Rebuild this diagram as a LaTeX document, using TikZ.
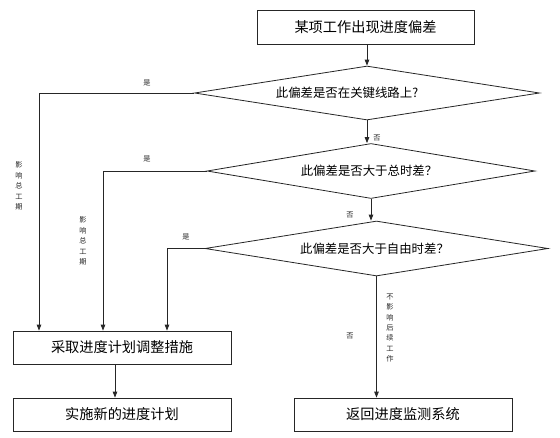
\documentclass[tikz,border=0pt]{standalone}
\usepackage{fontspec}
\setmainfont{Noto Sans CJK SC}
\usetikzlibrary{shapes.geometric,arrows.meta}
\begin{document}
\begin{tikzpicture}[x=1pt,y=-1pt,
  line width=0.8pt,
  arr/.style={draw=black!85,-{Triangle[length=6pt,width=4.5pt]}},
  ln/.style={draw=black!85},
  boxnode/.style={draw=black!85,rectangle,inner sep=0pt,font=\fontsize{14.2}{16}\selectfont},
  dia/.style={draw=black!85,diamond,inner sep=0pt},
  dtext/.style={font=\fontsize{12.4}{14}\selectfont,inner sep=0pt},
  small/.style={font=\fontsize{7.2}{8}\selectfont,inner sep=0pt,text=black!85},
  vtext/.style={font=\fontsize{7.2}{10.4}\selectfont,inner sep=0pt,align=center,text=black!85}]
\useasboundingbox[fill=white] (0,0) rectangle (560,437);

\node[boxnode,minimum width=217pt,minimum height=34pt] (B1) at (365.5,27) {某项工作出现进度偏差};

\node[dia,minimum width=345pt,minimum height=54pt,
  label={[dtext,xshift=-20pt]center:此偏差是否在关键线路上?}] (D1) at (367,93) {};
\node[dia,minimum width=328pt,minimum height=55pt,
  label={[dtext,xshift=-2pt]center:此偏差是否大于总时差？}] (D2) at (371,171) {};
\node[dia,minimum width=343pt,minimum height=55pt,
  label={[dtext,xshift=-2pt]center:此偏差是否大于自由时差？}] (D3) at (376.5,248.5) {};

\node[boxnode,minimum width=218pt,minimum height=33pt] (B2) at (122,347.5) {采取进度计划调整措施};
\node[boxnode,minimum width=218pt,minimum height=33pt] (B3) at (122,414.5) {实施新的进度计划};
\node[boxnode,minimum width=218pt,minimum height=33pt] (B4) at (403,414.5) {返回进度监测系统};

\coordinate (c1) at (39,0);
\coordinate (c2) at (103,0);
\coordinate (c3) at (167,0);
\coordinate (c4) at (115,0);

\draw[arr] (B1.south -| D1.north) -- (D1.north);
\draw[arr] (D1.south) -- (D1.south |- D2.north);
\draw[arr] (D2.south) -- (D2.south |- D3.north);
\draw[arr] (D3.south) -- (D3.south |- B4.north);
\draw[arr] (D1.west) -| (B2.north -| c1);
\draw[arr] (D2.west) -| (B2.north -| c2);
\draw[arr] (D3.west) -| (B2.north -| c3);
\draw[arr] (B2.south -| c4) -- (B3.north -| c4);

\node[small] (y1) at (147,83) {是};
\node[small] (y2) at (147,159) {是};
\node[small] (y3) at (186,237) {是};
\node[small] (n1) at (377,138) {否};
\node[small] (n2) at (350,215) {否};
\node[small] (n3) at (350,336) {否};

\node[vtext] (v1) at (19,186) {影\\响\\总\\工\\期};
\node[vtext] (v2) at (83,241) {影\\响\\总\\工\\期};
\node[vtext] (v3) at (390,328) {不\\影\\响\\后\\续\\工\\作};
\end{tikzpicture}
\end{document}
